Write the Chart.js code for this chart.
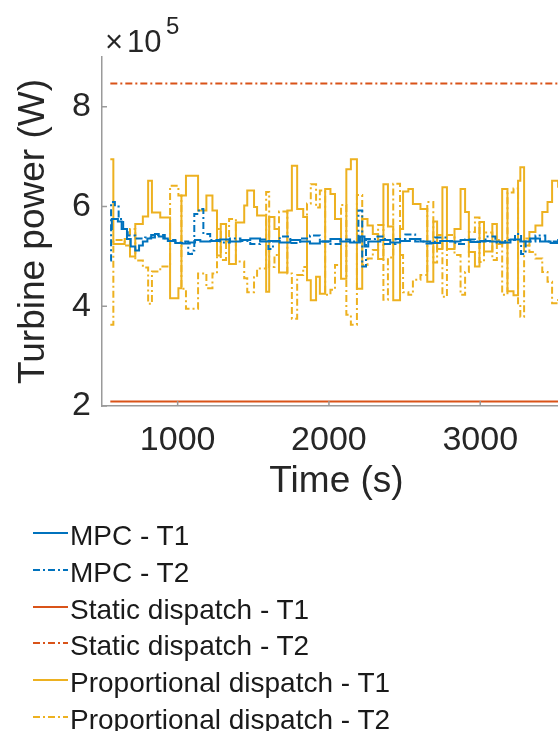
<!DOCTYPE html>
<html lang="en">
<head>
<meta charset="UTF-8">
<title>Turbine power</title>
<script src="https://cdn.jsdelivr.net/npm/chart.js"></script>
<style>
  html, body { margin: 0; padding: 0; width: 558px; height: 731px; overflow: hidden; background: #fff; }
  #wrap { position: absolute; left: 0; top: 0; width: 591px; height: 520px; }
  .note { position: absolute; font-family: 'Liberation Sans', Arial, sans-serif; color: #262626; line-height: 1; white-space: nowrap; }
  #legend { position: absolute; left: 33px; top: 518px; font-family: 'Liberation Sans', Arial, sans-serif; font-size: 28px; color: #1a1a1a; }
  .row { display: flex; align-items: center; height: 36.7px; white-space: nowrap; }
  .row svg { margin-right: 2px; flex: none; }
</style>
</head>
<body>
  <div id="wrap"><canvas id="power" width="591" height="520"></canvas></div>
  <!-- axis multiplier -->
  <span class="note" style="left:105px; top:26px; font-size:31px;">×</span>
  <span class="note" style="left:127px; top:26px; font-size:31px;">10</span>
  <span class="note" style="left:166px; top:14px; font-size:24px;">5</span>
  <div id="legend"></div>

<script>
  // tick positions
  const xTicks = [1000, 2000, 3000];
  const yTicks = [2, 4, 6, 8];

  const names = ['MPC - T1', 'MPC - T2', 'Static dispatch - T1', 'Static dispatch - T2',
                 'Proportional dispatch - T1', 'Proportional dispatch - T2'];

  // MPC (x10^5 W)
  const mpcTimeT1 = [555, 565, 605, 630, 665, 690, 720, 745, 770, 800,
    825, 850, 875, 905, 935, 985, 1030, 1080, 1115, 1150,
    1215, 1280, 1345, 1415, 1480, 1545, 1610, 1675, 1745, 1810,
    1875, 1940, 2010, 2075, 2140, 2205, 2235, 2260, 2340, 2405,
    2470, 2535, 2605, 2670, 2735, 2800, 2870, 2935, 3000, 3065,
    3130, 3200, 3265, 3330, 3395, 3465, 3515, 3600];
  const mpcT1 = [5.55, 5.75, 5.70, 5.55, 5.35, 5.20, 5.12, 5.22, 5.30, 5.36,
    5.43, 5.45, 5.40, 5.36, 5.31, 5.27, 5.26, 5.28, 5.33, 5.30,
    5.31, 5.34, 5.30, 5.33, 5.36, 5.30, 5.31, 5.28, 5.33, 5.30,
    5.26, 5.30, 5.35, 5.30, 5.28, 5.40, 5.20, 5.30, 5.33, 5.28,
    5.31, 5.35, 5.30, 5.27, 5.31, 5.30, 5.33, 5.29, 5.31, 5.30,
    5.28, 5.34, 5.30, 5.36, 5.30, 5.27, 5.30, 5.30];

  const mpcTimeT2 = [555, 560, 585, 610, 640, 670, 720, 785, 850, 915,
    985, 1050, 1070, 1095, 1110, 1140, 1170, 1215, 1280, 1345,
    1415, 1480, 1545, 1600, 1630, 1675, 1745, 1810, 1875, 1940,
    2010, 2075, 2140, 2195, 2220, 2245, 2305, 2370, 2440, 2505,
    2570, 2635, 2700, 2770, 2835, 2900, 2965, 3035, 3100, 3165,
    3230, 3270, 3300, 3365, 3430, 3515, 3600];
  const mpcT2 = [4.92, 6.09, 6.00, 5.75, 5.55, 5.42, 5.36, 5.38, 5.43, 5.33,
    5.28, 5.30, 5.05, 5.12, 5.85, 5.95, 5.45, 5.33, 5.28, 5.36,
    5.31, 5.25, 5.34, 5.15, 5.30, 5.40, 5.27, 5.36, 5.42, 5.30,
    5.25, 5.34, 5.30, 5.92, 4.80, 5.35, 5.40, 5.25, 5.35, 5.44,
    5.30, 5.26, 5.38, 5.31, 5.25, 5.34, 5.30, 5.40, 5.28, 5.33,
    5.45, 5.05, 5.30, 5.42, 5.30, 5.33, 5.33];

  // static dispatch
  const staticTime = [555, 3600];
  const staticT1 = [2.09, 2.09];
  const staticT2 = [8.47, 8.47];

  // proportional dispatch
  const propTime = [555, 575, 650, 685, 720, 770, 805, 830, 885, 950,
    1005, 1025, 1055, 1135, 1190, 1230, 1260, 1285, 1320, 1340,
    1385, 1440, 1460, 1505, 1525, 1585, 1605, 1640, 1670, 1725,
    1755, 1790, 1830, 1855, 1880, 1915, 1940, 1975, 2010, 2040,
    2080, 2115, 2145, 2185, 2220, 2255, 2290, 2325, 2360, 2390,
    2425, 2470, 2490, 2525, 2555, 2605, 2650, 2690, 2715, 2750,
    2780, 2830, 2870, 2900, 2925, 2965, 2995, 3025, 3080, 3110,
    3145, 3180, 3220, 3250, 3265, 3290, 3325, 3365, 3410, 3445,
    3475, 3515, 3600];
  const propT1 = [6.95, 5.25, 5.35, 5.00, 5.65, 5.80, 6.52, 5.88, 5.78, 4.16,
    4.36, 6.22, 6.62, 5.92, 6.22, 5.92, 5.02, 5.65, 5.30, 4.85,
    5.68, 6.02, 6.32, 5.99, 5.82, 4.29, 5.79, 5.55, 4.68, 5.92,
    6.82, 5.95, 5.79, 4.52, 4.12, 4.59, 4.25, 6.35, 6.25, 5.75,
    4.55, 6.75, 6.95, 4.35, 5.75, 5.62, 5.45, 4.95, 6.45, 5.60,
    4.12, 5.55, 6.30, 6.35, 6.05, 5.95, 4.49, 5.70, 5.15, 6.39,
    5.15, 5.55, 6.35, 5.89, 5.09, 4.80, 5.69, 5.10, 5.65, 5.25,
    6.35, 4.30, 4.22, 6.52, 6.79, 5.22, 5.49, 5.62, 5.89, 6.09,
    6.52, 6.40, 6.40];
  const propT2 = [3.63, 5.33, 5.22, 5.55, 4.92, 4.78, 4.05, 4.70, 4.80, 6.42,
    6.22, 4.35, 3.95, 4.66, 4.36, 4.66, 5.55, 4.93, 5.28, 5.75,
    4.90, 4.56, 4.28, 4.58, 4.76, 6.29, 4.79, 5.03, 5.90, 4.66,
    3.75, 4.63, 4.79, 6.06, 6.45, 5.98, 6.32, 4.23, 4.33, 4.83,
    6.03, 3.83, 3.63, 6.23, 4.83, 4.96, 5.13, 5.63, 4.13, 4.98,
    6.46, 5.03, 4.28, 4.23, 4.53, 4.63, 6.09, 4.88, 5.43, 4.19,
    5.43, 5.03, 4.23, 4.69, 5.49, 5.78, 4.89, 5.48, 4.93, 5.33,
    4.23, 6.28, 6.36, 4.06, 3.79, 5.36, 5.09, 4.96, 4.69, 4.49,
    4.06, 4.18, 4.18];

  const blue = '#0072BD', orange = '#D95319', yellow = '#EDB120';
  const dashDot = [7, 3, 2, 3];
  const axisColor = '#9a9a9a';
  const textColor = '#262626';
  const fontFamily = "'Liberation Sans', Arial, sans-serif";

  function series(label, t, v, color, dash) {
    return {
      label: label,
      data: t.map((x, i) => ({ x: x, y: v[i] })),
      borderColor: color,
      backgroundColor: color,
      borderWidth: 2,
      borderDash: dash,
      pointRadius: 0,
      stepped: true,
      fill: false
    };
  }

  const datasets = [
    series(names[0], mpcTimeT1, mpcT1, blue, []),
    series(names[1], mpcTimeT2, mpcT2, blue, dashDot),
    series(names[2], staticTime, staticT1, orange, []),
    series(names[3], staticTime, staticT2, orange, dashDot),
    series(names[4], propTime, propT1, yellow, []),
    series(names[5], propTime, propT2, yellow, dashDot)
  ];

  // inward tick marks like the original figure
  const innerTicks = {
    id: 'innerTicks',
    afterDraw(chart) {
      const { ctx, chartArea: a, scales: { x, y } } = chart;
      ctx.save();
      ctx.strokeStyle = axisColor;
      ctx.lineWidth = 1.5;
      ctx.beginPath();
      xTicks.forEach(v => {
        const px = x.getPixelForValue(v);
        ctx.moveTo(px, a.bottom);
        ctx.lineTo(px, a.bottom - 5);
      });
      yTicks.forEach(v => {
        const py = y.getPixelForValue(v);
        ctx.moveTo(a.left, py);
        ctx.lineTo(a.left + 5, py);
      });
      ctx.stroke();
      ctx.restore();
    }
  };

  new Chart(document.getElementById('power'), {
    type: 'line',
    data: { datasets: datasets },
    options: {
      responsive: false,
      animation: false,
      devicePixelRatio: 1,
      layout: { padding: { top: 57, right: 20, left: 0, bottom: 0 } },
      plugins: { legend: { display: false }, tooltip: { enabled: false } },
      scales: {
        x: {
          type: 'linear',
          min: 500,
          max: 3600,
          afterBuildTicks: s => { s.ticks = xTicks.map(v => ({ value: v })); },
          afterFit: s => { s.height = 114; },
          grid: { display: false, drawTicks: false },
          border: { display: true, color: axisColor, width: 1.5 },
          ticks: {
            autoSkip: false, maxRotation: 0, padding: 14, color: textColor,
            font: { family: fontFamily, size: 34 },
            callback: v => String(v)
          },
          title: {
            display: true, text: 'Time (s)', color: textColor,
            font: { family: fontFamily, size: 37 },
            padding: { top: 0, bottom: 16 }
          }
        },
        y: {
          min: 2,
          max: 9,
          afterBuildTicks: s => { s.ticks = yTicks.map(v => ({ value: v })); },
          afterFit: s => { s.width = 102; },
          grid: { display: false, drawTicks: false },
          border: { display: true, color: axisColor, width: 1.5 },
          ticks: {
            autoSkip: false, padding: 11, color: textColor,
            font: { family: fontFamily, size: 34 },
            callback: v => String(v)
          },
          title: {
            display: true, text: 'Turbine power (W)', color: textColor,
            font: { family: fontFamily, size: 37 },
            padding: { top: 12, bottom: 0 }
          }
        }
      }
    },
    plugins: [innerTicks]
  });

  // legend below the axes, one entry per row
  const legend = document.getElementById('legend');
  datasets.forEach(d => {
    const row = document.createElement('div');
    row.className = 'row';
    const dash = d.borderDash.length ? ` stroke-dasharray="${d.borderDash.join(' ')}"` : '';
    row.innerHTML = `<svg width="35" height="12"><line x1="0" y1="3" x2="35" y2="3" stroke="${d.borderColor}" stroke-width="2"${dash}/></svg><span>${d.label}</span>`;
    legend.appendChild(row);
  });
</script>
</body>
</html>
